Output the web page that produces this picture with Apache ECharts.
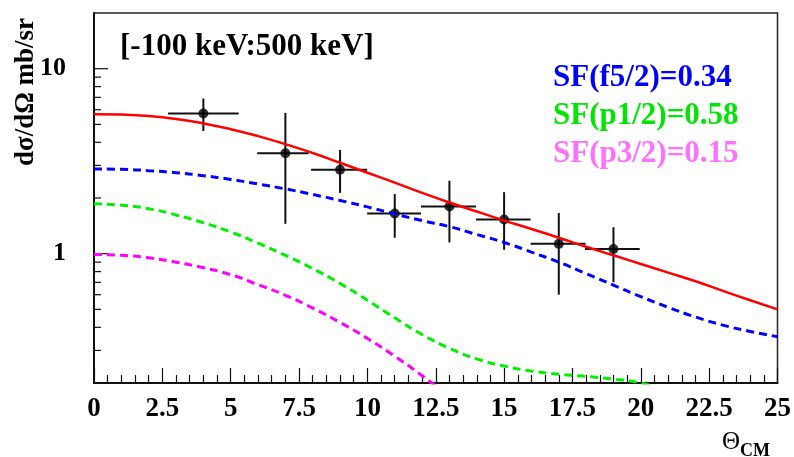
<!DOCTYPE html>
<html>
<head>
<meta charset="utf-8">
<script src="https://cdn.jsdelivr.net/npm/echarts@6/dist/echarts.min.js"></script>
<style>
html,body{margin:0;padding:0;background:#fff;}
#chart{width:794px;height:457px;}
</style>
</head>
<body>
<div id="chart"></div>
<script>
// ---- data ----
var curveX = [0,1,2,3,4,5,6,7,8,9,10,11,12,13,14,15,16,17,18,19,20,21,22,23,24,25];
var totalY = [5.68,5.65,5.55,5.35,5.06,4.71,4.32,3.91,3.50,3.10,2.74,2.42,2.13,1.89,1.69,1.51,1.36,1.22,1.09,0.98,0.88,0.79,0.71,0.63,0.56,0.50];
var f52Y   = [2.87,2.86,2.81,2.74,2.64,2.52,2.38,2.24,2.09,1.94,1.79,1.64,1.51,1.40,1.27,1.15,1.02,0.90,0.78,0.676,0.586,0.513,0.455,0.411,0.380,0.356];
var p12X   = [0,1,2,3,4,5,6,7,8,9,10,11,12,13,14,15,16,17,18,19,20,21];
var p12Y   = [1.86,1.83,1.75,1.62,1.47,1.31,1.14,0.98,0.83,0.69,0.56,0.45,0.366,0.308,0.27,0.247,0.232,0.223,0.217,0.21,0.20,0.18];
var p32X   = [0,1,2,3,4,5,6,7,8,9,10,11,12,13];
var p32Y   = [0.99,0.98,0.95,0.90,0.84,0.77,0.68,0.596,0.508,0.425,0.348,0.279,0.219,0.168];

var ptX   = [4,7,9,11,13,15,17,19];
var ptY   = [5.73,3.49,2.84,1.65,1.80,1.53,1.13,1.06];
var ptYLo = [4.60,1.45,2.13,1.22,1.15,1.05,0.60,0.70];
var ptYHi = [6.90,5.77,3.64,2.10,2.48,2.15,1.66,1.39];
var ptXLo = [2.71,5.97,7.94,9.99,11.96,13.97,15.97,17.96];
var ptXHi = [5.29,7.85,9.99,11.96,13.97,15.97,17.98,19.96];

var yMajorTicks = [1,10];
var yMinorTicks = [0.3,0.4,0.5,0.6,0.7,0.8,0.9,2,3,4,5,6,7,8,9];

var titleText = '[-100 keV:500 keV]';
var sfLabels = ['SF(f5/2)=0.34','SF(p1/2)=0.58','SF(p3/2)=0.15'];
var yTitle = 'd\u03c3/d\u03a9 mb/sr';

// ---- build ----
function pairs(xs, ys){ return xs.map(function(x,i){ return [x, ys[i]]; }); }
var errData = ptX.map(function(x,i){ return [x, ptY[i], ptXLo[i], ptXHi[i], ptYLo[i], ptYHi[i]]; });
var tickData = yMajorTicks.map(function(v){ return [0, v, 1]; })
  .concat(yMinorTicks.map(function(v){ return [0, v, 0]; }));

var FONT = '"Liberation Serif","Times New Roman",serif';
var chart = echarts.init(document.getElementById('chart'), null, {renderer:'canvas'});

var option = {
  animation: false,
  backgroundColor: '#ffffff',
  grid: { left: 94, right: 15, top: 13, bottom: 74, show: true, borderColor: '#222', borderWidth: 1.5, backgroundColor: 'transparent' },
  xAxis: {
    type: 'value', min: 0, max: 25, interval: 2.5,
    axisLine: { show: true, onZero: false, lineStyle: { color: '#111', width: 2 } },
    axisTick: { show: true, inside: true, length: 15, lineStyle: { color: '#111', width: 1.2 } },
    minorTick: { show: true, splitNumber: 5, length: 8, lineStyle: { color: '#111', width: 1.2 } },
    splitLine: { show: false },
    axisLabel: { color: '#000', fontFamily: FONT, fontWeight: 'bold', fontSize: 27, margin: 13,
      formatter: function(v){ return String(v); } }
  },
  yAxis: {
    type: 'log', logBase: 10, min: 0.2, max: 20,
    axisLine: { show: true, onZero: false, lineStyle: { color: '#111', width: 2 } },
    axisTick: { show: false },
    splitLine: { show: false },
    axisLabel: { color: '#000', fontFamily: FONT, fontWeight: 'bold', fontSize: 26, margin: 28,
      formatter: function(v){ if (Math.abs(v-1)<1e-6) return '1'; if (Math.abs(v-10)<1e-6) return '10'; return ''; } }
  },
  series: [
    { type: 'custom', coordinateSystem: 'cartesian2d', silent: true, clip: false, z: 5,
      data: tickData,
      renderItem: function(params, api){
        var p = api.coord([api.value(0), api.value(1)]);
        var len = api.value(2) ? 14 : 7;
        return { type: 'line', shape: { x1: p[0], y1: p[1], x2: p[0]+len, y2: p[1] },
                 style: { stroke: '#111', lineWidth: 1.2 } };
      }
    },
    { type: 'custom', coordinateSystem: 'cartesian2d', silent: true, z: 3,
      data: errData,
      renderItem: function(params, api){
        var c = api.coord([api.value(0), api.value(1)]);
        var xl = api.coord([api.value(2), api.value(1)]);
        var xh = api.coord([api.value(3), api.value(1)]);
        var yl = api.coord([api.value(0), api.value(4)]);
        var yh = api.coord([api.value(0), api.value(5)]);
        var st = { stroke: '#111', lineWidth: 2 };
        return { type: 'group', children: [
          { type: 'line', shape: { x1: xl[0], y1: c[1], x2: xh[0], y2: c[1] }, style: st },
          { type: 'line', shape: { x1: c[0], y1: yl[1], x2: c[0], y2: yh[1] }, style: st }
        ]};
      }
    },
    { type: 'scatter', data: pairs(ptX, ptY), symbol: 'circle', symbolSize: 10,
      itemStyle: { color: '#000' }, z: 4 },
    { type: 'line', data: pairs(p32X, p32Y), showSymbol: false, smooth: 0.5, clip: true,
      lineStyle: { color: '#ff00ff', width: 3, type: [8,5] }, z: 5 },
    { type: 'line', data: pairs(p12X, p12Y), showSymbol: false, smooth: 0.5, clip: true,
      lineStyle: { color: '#00f000', width: 3, type: [8,5] }, z: 5 },
    { type: 'line', data: pairs(curveX, f52Y), showSymbol: false, smooth: 0.5, clip: true,
      lineStyle: { color: '#0000ff', width: 3, type: [8,5] }, z: 5 },
    { type: 'line', data: pairs(curveX, totalY), showSymbol: false, smooth: 0.5, clip: true,
      lineStyle: { color: '#ff0000', width: 2.5 }, z: 6 }
  ],
  graphic: [
    { type: 'text', x: 120, y: 47, style: { text: titleText, font: 'bold 31px ' + FONT, fill: '#000', textAlign: 'left', textVerticalAlign: 'middle' } },
    { type: 'text', x: 553, y: 78, style: { text: sfLabels[0], font: 'bold 31px ' + FONT, fill: '#0000ff', textAlign: 'left', textVerticalAlign: 'middle' } },
    { type: 'text', x: 553, y: 116, style: { text: sfLabels[1], font: 'bold 31px ' + FONT, fill: '#00e600', textAlign: 'left', textVerticalAlign: 'middle' } },
    { type: 'text', x: 553, y: 154, style: { text: sfLabels[2], font: 'bold 31px ' + FONT, fill: '#ff70ff', textAlign: 'left', textVerticalAlign: 'middle' } },
    { type: 'text', x: 26, y: 92, rotation: Math.PI/2, style: { text: yTitle, font: 'bold 27px ' + FONT, fill: '#000', textAlign: 'center', textVerticalAlign: 'middle' } },
    { type: 'text', x: 722, y: 430, style: { text: '{t|\u0398}{s|CM}', fill: '#000', textAlign: 'left', textVerticalAlign: 'top',
        rich: { t: { font: '25px ' + FONT, fill: '#000', verticalAlign: 'top' },
                s: { font: 'bold 18px ' + FONT, fill: '#000', padding: [12,0,0,0] } } } }
  ]
};
chart.setOption(option);
</script>
</body>
</html>
